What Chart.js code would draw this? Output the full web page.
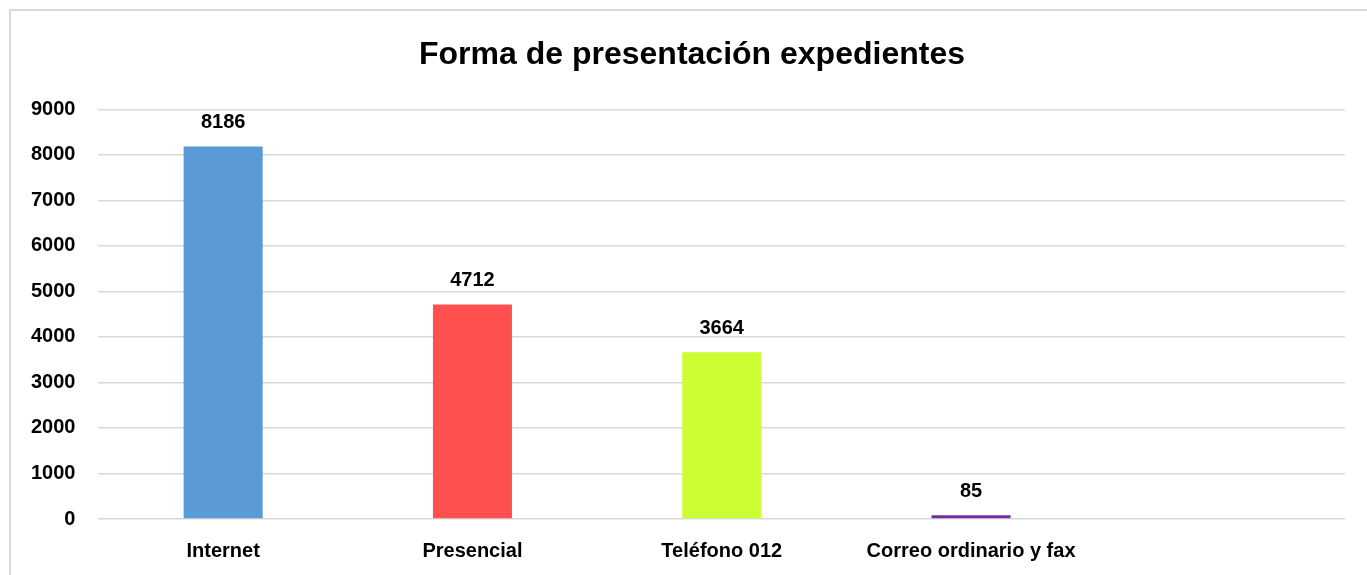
<!DOCTYPE html>
<html>
<head>
<meta charset="utf-8">
<script src="https://cdn.jsdelivr.net/npm/chart.js@4"></script>
<style>
  html, body { margin: 0; padding: 0; background: #fff; overflow: hidden; }
  #wrap {
    position: absolute; left: 9px; top: 9px;
    width: 1370px; height: 580px;
    border-left: 2px solid #d9d9d9; border-top: 2px solid #d9d9d9;
  }
</style>
</head>
<body>
<div id="wrap"><canvas id="chart"></canvas></div>
<script>
// datos del gráfico
const chartTitle = "Forma de presentación expedientes";
const categories = ["Internet", "Presencial", "Teléfono 012", "Correo ordinario y fax", ""];
const values = [8186, 4712, 3664, 85, null];
const barColors = ["#5B9BD5", "#FF5050", "#CCFF33", "#7030A0", "#FFFFFF"];
const yTicks = [0, 1000, 2000, 3000, 4000, 5000, 6000, 7000, 8000, 9000];

const fontFamily = "'Liberation Sans', Arial, sans-serif";

// etiquetas de valor encima de cada barra
const valueLabels = {
    id: "valueLabels",
    afterDatasetsDraw(chart) {
        const ctx = chart.ctx;
        const meta = chart.getDatasetMeta(0);
        ctx.save();
        ctx.font = "bold 20px " + fontFamily;
        ctx.fillStyle = "#000";
        ctx.textAlign = "center";
        ctx.textBaseline = "middle";
        meta.data.forEach((bar, i) => {
            if (values[i] == null) return;
            ctx.fillText(String(values[i]), bar.x, bar.y - 24);
        });
        ctx.restore();
    }
};

// centrar el título sobre todo el gráfico, no sobre el área con padding
const titleCenter = {
    id: "titleCenter",
    afterLayout(chart) {
        if (chart.titleBlock) {
            chart.titleBlock.left = 0;
            chart.titleBlock.right = chart.width - 6;
        }
    }
};

const canvas = document.getElementById("chart");
canvas.width = 1368;
canvas.height = 578;

new Chart(canvas.getContext("2d"), {
    type: "bar",
    data: {
        labels: categories,
        datasets: [{
            data: values,
            backgroundColor: barColors,
            borderWidth: 0,
            categoryPercentage: 1,
            barPercentage: 0.317
        }]
    },
    options: {
        responsive: false,
        animation: false,
        layout: { padding: { left: -3, right: 34, top: 0, bottom: 6 } },
        plugins: {
            legend: { display: false },
            tooltip: { enabled: false },
            title: {
                display: true,
                text: chartTitle,
                color: "#000",
                font: { family: fontFamily, size: 32, weight: "bold" },
                padding: { top: 25, bottom: 35 }
            }
        },
        scales: {
            x: {
                grid: { display: false, drawTicks: false },
                border: { display: false },
                ticks: {
                    color: "#000",
                    font: { family: fontFamily, size: 20, weight: "bold" },
                    padding: 20,
                    maxRotation: 0,
                    autoSkip: false
                }
            },
            y: {
                min: 0,
                max: 9000,
                afterBuildTicks(scale) {
                    scale.ticks = yTicks.map(v => ({ value: v }));
                },
                grid: { color: "#d9d9d9", lineWidth: 1.5, drawTicks: false },
                border: { display: false },
                ticks: {
                    color: "#000",
                    font: { family: fontFamily, size: 20, weight: "bold" },
                    padding: 23,
                    callback: v => String(v)
                }
            }
        }
    },
    plugins: [valueLabels, titleCenter]
});
</script>
</body>
</html>
